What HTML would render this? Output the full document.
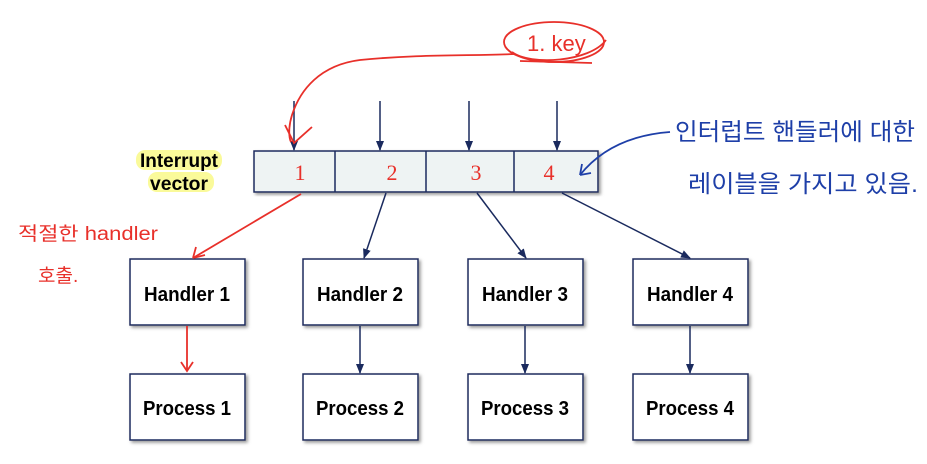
<!DOCTYPE html>
<html><head><meta charset="utf-8"><style>
body{margin:0;background:#fff;}
</style></head><body>
<svg width="927" height="459" viewBox="0 0 927 459" xmlns="http://www.w3.org/2000/svg" font-family="Liberation Sans, sans-serif">
<defs>
<marker id="a" markerWidth="10" markerHeight="10" refX="9" refY="5" orient="auto" markerUnits="userSpaceOnUse"><path d="M0,1 L10,5 L0,9 Z" fill="#1a2a5e"/></marker>
<filter id="s"><feDropShadow dx="2" dy="2" stdDeviation="1.5" flood-color="#999"/></filter>
</defs>
<rect x="136" y="150" width="86" height="20" rx="9" fill="#fafa9a"/>
<rect x="148" y="172" width="66" height="20" rx="9" fill="#fafa9a"/>
<text x="179" y="167" font-size="19" font-weight="bold" text-anchor="middle" textLength="78" lengthAdjust="spacingAndGlyphs">Interrupt</text>
<text x="179" y="190" font-size="19" font-weight="bold" text-anchor="middle" textLength="58" lengthAdjust="spacingAndGlyphs">vector</text>
<g filter="url(#s)"><rect x="254" y="151" width="344" height="41" fill="#eef3f3" stroke="#1a2a5e" stroke-width="1.5"/></g>
<g stroke="#1a2a5e" stroke-width="1.5"><line x1="335" y1="151" x2="335" y2="192"/><line x1="426" y1="151" x2="426" y2="192"/><line x1="514" y1="151" x2="514" y2="192"/></g>
<g fill="#e8302a" font-size="22" font-family="Liberation Serif, serif" text-anchor="middle"><text x="300" y="180">1</text><text x="392" y="180">2</text><text x="476" y="180">3</text><text x="549" y="180">4</text></g>
<g stroke="#1a2a5e" stroke-width="1.5" marker-end="url(#a)"><line x1="294" y1="101" x2="294" y2="150"/><line x1="380" y1="101" x2="380" y2="150"/><line x1="469" y1="101" x2="469" y2="150"/><line x1="557" y1="101" x2="557" y2="150"/></g>
<g filter="url(#s)" fill="#fff" stroke="#1a2a5e" stroke-width="1.5">
<rect x="130" y="259" width="115" height="66"/><rect x="303" y="259" width="115" height="66"/><rect x="468" y="259" width="115" height="66"/><rect x="633" y="259" width="115" height="66"/>
<rect x="130" y="374" width="115" height="66"/><rect x="303" y="374" width="115" height="66"/><rect x="468" y="374" width="115" height="66"/><rect x="633" y="374" width="115" height="66"/>
</g>
<g font-size="20" font-weight="bold" text-anchor="middle" lengthAdjust="spacingAndGlyphs">
<text x="187" y="301" textLength="86" lengthAdjust="spacingAndGlyphs">Handler 1</text><text x="360" y="301" textLength="86" lengthAdjust="spacingAndGlyphs">Handler 2</text><text x="525" y="301" textLength="86" lengthAdjust="spacingAndGlyphs">Handler 3</text><text x="690" y="301" textLength="86" lengthAdjust="spacingAndGlyphs">Handler 4</text>
<text x="187" y="415" textLength="88" lengthAdjust="spacingAndGlyphs">Process 1</text><text x="360" y="415" textLength="88" lengthAdjust="spacingAndGlyphs">Process 2</text><text x="525" y="415" textLength="88" lengthAdjust="spacingAndGlyphs">Process 3</text><text x="690" y="415" textLength="88" lengthAdjust="spacingAndGlyphs">Process 4</text>
</g>
<g stroke="#1a2a5e" stroke-width="1.5" marker-end="url(#a)">
<line x1="386" y1="193" x2="364" y2="258"/>
<line x1="477" y1="193" x2="526" y2="258"/>
<line x1="562" y1="193" x2="690" y2="258"/>
<line x1="360" y1="326" x2="360" y2="373"/>
<line x1="525" y1="326" x2="525" y2="373"/>
<line x1="690" y1="326" x2="690" y2="373"/>
</g>
<g stroke="#e8302a" stroke-width="1.8" fill="none">
<line x1="301" y1="194" x2="193" y2="258"/>
<path d="M193,258 l12,-3 M193,258 l3,-11"/>
<line x1="187" y1="326" x2="187" y2="370"/>
<path d="M181,362 l6,9 l6,-9"/>
<path d="M515,54 C470,56 420,54 360,60 C320,65 300,90 292,115 C288,128 289,138 291,142"/>
<path d="M285,125 l9,18 l18,-16"/>
<ellipse cx="554" cy="42" rx="50" ry="20"/>
<path d="M512,52 C530,66 590,62 606,40"/>
<path d="M520,61 L592,63"/>
</g>
<text x="527" y="51" fill="#e8302a" font-size="22" font-family="Liberation Sans, sans-serif">1. key</text>
<text x="18" y="240" fill="#e8302a" font-size="19" font-family="Liberation Sans, 'Noto Sans CJK KR', sans-serif" textLength="140" lengthAdjust="spacingAndGlyphs">적절한 handler</text>
<text x="38" y="282" fill="#e8302a" font-size="19" font-family="Liberation Sans, 'Noto Sans CJK KR', sans-serif">호출.</text>
<path d="M670,132 C630,135 600,150 580,175" stroke="#1e3fa8" stroke-width="1.8" fill="none"/>
<path d="M580,175 l2,-11 M580,175 l11,-2" stroke="#1e3fa8" stroke-width="1.8" fill="none"/>
<text x="675" y="140" fill="#1e3fa8" font-size="24" font-family="Liberation Sans, 'Noto Sans CJK KR', sans-serif" textLength="240" lengthAdjust="spacingAndGlyphs">인터럽트 핸들러에 대한</text>
<text x="688" y="192" fill="#1e3fa8" font-size="24" font-family="Liberation Sans, 'Noto Sans CJK KR', sans-serif" textLength="230" lengthAdjust="spacingAndGlyphs">레이블을 가지고 있음.</text>
</svg>
</body></html>
